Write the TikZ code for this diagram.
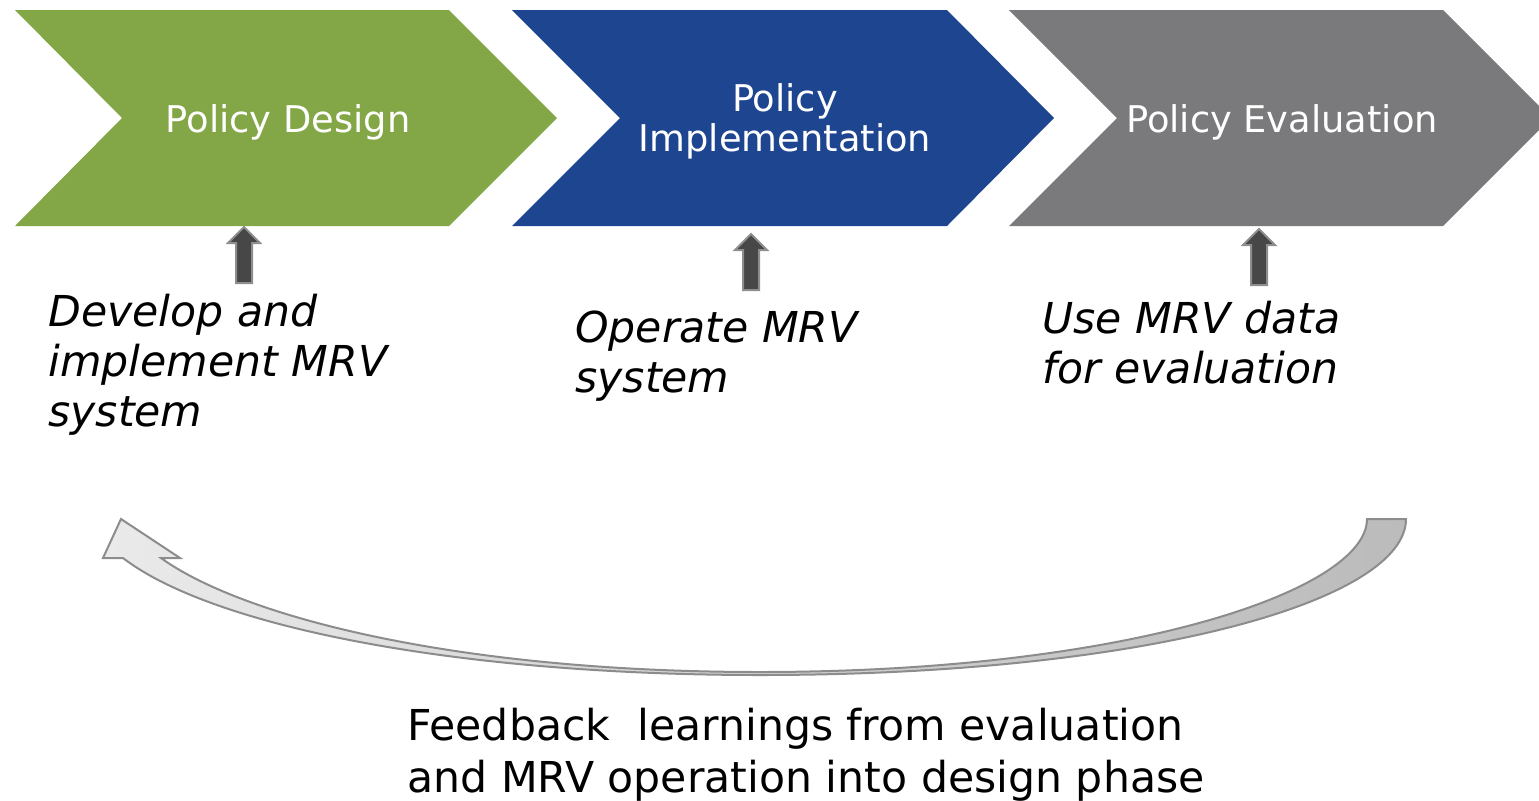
\documentclass[tikz,border=0pt]{standalone}
\usepackage{fontspec}
\setmainfont{DejaVu Sans}
\definecolor{pgreen}{HTML}{83A747}
\definecolor{pblue}{HTML}{1D4590}
\definecolor{pgray}{HTML}{7A7A7C}
\definecolor{arrfill}{HTML}{474747}
\definecolor{arrline}{HTML}{8E8E8E}
\definecolor{swl}{HTML}{EAEAEA}
\definecolor{swr}{HTML}{BBBBBB}
\definecolor{swline}{HTML}{8C8C8C}
\tikzset{
  chevtext/.style={text=white, inner sep=0pt, font=\fontsize{18.4}{20}\selectfont},
  ittext/.style={anchor=base west, align=left, inner sep=0pt, text=black, font=\itshape\fontsize{21.3}{25}\selectfont},
  fbtext/.style={anchor=base west, align=left, inner sep=0pt, text=black, font=\fontsize{21.3}{26}\selectfont},
  uparrow/.pic={\filldraw[fill=arrfill, draw=arrline, line width=1pt]
     (0,0) -- (16,16) -- (8,16) -- (8,56) -- (-8,56) -- (-8,16) -- (-16,16) -- cycle;},
  swoosh/.style={left color=swl, right color=swr, draw=swline, line width=1pt, line join=miter}
}
\begin{document}
\begin{tikzpicture}[x=0.5pt,y=-0.5pt]
\useasboundingbox (0,0) rectangle (1539,800);
\begin{scope}
\clip (0,0) rectangle (1539,800);
\fill[pgreen] (15,10) -- (449,10) -- (557,118) -- (449,226) -- (15,226) -- (122,118) -- cycle;
\fill[pblue] (512,10) -- (947,10) -- (1054,118) -- (947,226) -- (512,226) -- (620,118) -- cycle;
\fill[pgray] (1009,10) -- (1443,10) -- (1551,118) -- (1443,226) -- (1009,226) -- (1117,118) -- cycle;
\end{scope}
\node[chevtext, anchor=base] (pd) at (288,132) {Policy Design};
\node[chevtext, anchor=base, align=center] (pi) at (785,151) {Policy\\Implementation};
\node[chevtext, anchor=base] (pe) at (1282,132) {Policy Evaluation};
\pic at (244,227) {uparrow};
\pic at (751,234) {uparrow};
\pic at (1259,229) {uparrow};
\node[ittext] (t1) at (48,426) {Develop and\\implement MRV\\system};
\node[ittext] (t2) at (575,392) {Operate MRV\\system};
\node[ittext] (t3) at (1042,383) {Use MRV data\\for evaluation};
\draw[swoosh] (1367,519) -- (1406,519) .. controls (1406,600) and (1150,675) .. (760,675)
   .. controls (450,675) and (210,625) .. (123,558) -- (103,558) -- (121,519) -- (180,558) -- (161,558)
   .. controls (240,615) and (450,672) .. (760,672) .. controls (1130,672) and (1367,590) .. (1367,519) -- cycle;
\node[fbtext] (fb) at (407,792) {Feedback\ \ learnings from evaluation\\and MRV operation into design phase};
\end{tikzpicture}
\end{document}
